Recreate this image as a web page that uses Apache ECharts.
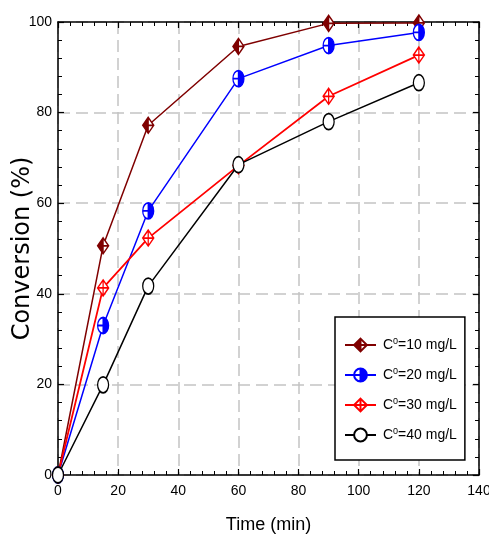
<!DOCTYPE html>
<html>
<head>
<meta charset="utf-8">
<script src="https://cdn.jsdelivr.net/npm/echarts@6/dist/echarts.min.js"></script>
<style>
  html, body { margin: 0; padding: 0; background: #fff; }
  #chart { width: 489px; height: 540px; }
</style>
</head>
<body>
<div id="chart"></div>
<script>
// Sampling times (min)
const times = [0, 15, 30, 60, 90, 120];

// Conversion (%) for each initial concentration
const conv10 = [0, 50.6, 77.2, 94.6, 99.7, 99.8];
const conv20 = [0, 33.0, 58.3, 87.5, 94.8, 97.7];
const conv30 = [0, 41.3, 52.3, 68.3, 83.6, 92.7];
const conv40 = [0, 19.9, 41.7, 68.5, 78.0, 86.6];

const seriesNames = ['C0=10 mg/L', 'C0=20 mg/L', 'C0=30 mg/L', 'C0=40 mg/L'];

// Axis ranges / ticks
const xMin = 0, xMax = 140, xStep = 20;
const yMin = 0, yMax = 100, yStep = 20;

const labelFont = "'Liberation Sans Narrow', 'Arial Narrow', 'Liberation Sans', Arial, sans-serif";

// Marker shapes: diamond and ellipse, each with a cross-hair
const diamondCross = 'path://M0,-1L1,0L0,1L-1,0Z M0,-1L0,1 M-1,0L1,0';
const ellipseCross = 'path://M-1,0A1,1 0 1,1 1,0A1,1 0 1,1 -1,0Z M-1,0L1,0 M0,-1L0,1';
const ellipse = 'path://M-1,0A1,1 0 1,1 1,0A1,1 0 1,1 -1,0Z';

function halfFill(color, leftSide) {
  const a = leftSide ? color : '#ffffff';
  const b = leftSide ? '#ffffff' : color;
  return {
    type: 'linear', x: 0, y: 0, x2: 1, y2: 0,
    colorStops: [
      { offset: 0, color: a }, { offset: 0.5, color: a },
      { offset: 0.5, color: b }, { offset: 1, color: b }
    ]
  };
}

function pairs(vals) {
  return times.map((t, i) => [t, vals[i]]);
}

function makeSeries(name, vals, color, symbol, fill, lw) {
  return {
    name: name,
    type: 'line',
    data: pairs(vals),
    symbol: symbol,
    symbolSize: [11, 16],
    showAllSymbol: true,
    clip: false,
    lineStyle: { color: color, width: lw },
    itemStyle: { color: fill, borderColor: color, borderWidth: 1.5 },
    emphasis: { disabled: true }
  };
}

function axisCommon(min, max, step) {
  return {
    type: 'value',
    min: min, max: max, interval: step,
    axisLine: { show: true, onZero: false, lineStyle: { color: '#000', width: 1.5 } },
    axisTick: { show: true, inside: true, length: 6, lineStyle: { color: '#000', width: 1.2 } },
    minorTick: { show: true, splitNumber: 5, length: 4, lineStyle: { color: '#000', width: 1 } },
    splitLine: { show: false },
    axisLabel: { show: false }
  };
}

const chart = echarts.init(document.getElementById('chart'), null, { renderer: 'canvas' });

chart.setOption({
  animation: false,
  backgroundColor: '#ffffff',
  grid: { left: 58, right: 10, top: 22, bottom: 65, containLabel: false, outerBoundsMode: 'none' },
  xAxis: [
    Object.assign(axisCommon(xMin, xMax, xStep), {
      position: 'bottom',
      name: 'Time (min)',
      nameLocation: 'middle',
      nameGap: 41,
      nameMoveOverlap: false,
      nameTextStyle: { fontFamily: labelFont, fontSize: 18, color: '#000' },
      axisLabel: { show: true, margin: 9, fontFamily: labelFont, fontSize: 14, color: '#000' },
      splitLine: { show: true, lineStyle: { color: '#c4c4c4', width: 1.5, type: [12, 6] } }
    }),
    Object.assign(axisCommon(xMin, xMax, xStep), { position: 'top' })
  ],
  yAxis: [
    Object.assign(axisCommon(yMin, yMax, yStep), {
      position: 'left',
      name: 'Conversion (%)',
      nameLocation: 'middle',
      nameGap: 23,
      nameMoveOverlap: false,
      nameTextStyle: { fontFamily: "'DejaVu Sans', Verdana, sans-serif", fontSize: 24, color: '#000' },
      axisLabel: { show: true, margin: 6, fontFamily: labelFont, fontSize: 14, color: '#000' },
      splitLine: { show: true, lineStyle: { color: '#c4c4c4', width: 1.5, type: [12, 6] } }
    }),
    Object.assign(axisCommon(yMin, yMax, yStep), { position: 'right' })
  ],
  legend: {
    orient: 'vertical',
    left: 335,
    top: 317,
    data: seriesNames,
    itemWidth: 31,
    itemHeight: 16,
    itemGap: 14,
    padding: [20, 8, 17, 9],
    backgroundColor: '#ffffff',
    borderColor: '#000',
    borderWidth: 1.5,
    borderRadius: 0,
    selectedMode: false,
    formatter: n => n.replace(/^C0/, 'C{s|0}'),
    textStyle: {
      fontFamily: labelFont, fontSize: 14, lineHeight: 16, color: '#000', padding: [0, 0, 0, 2],
      rich: { s: { fontFamily: labelFont, fontSize: 9, lineHeight: 9, verticalAlign: 'top' } }
    }
  },
  series: [
    makeSeries(seriesNames[0], conv10, '#7f0000', diamondCross, halfFill('#7f0000', true), 1.5),
    makeSeries(seriesNames[1], conv20, '#0000ff', ellipseCross, halfFill('#0000ff', false), 1.5),
    makeSeries(seriesNames[2], conv30, '#ff0000', diamondCross, '#ffffff', 1.8),
    makeSeries(seriesNames[3], conv40, '#000000', ellipse, '#ffffff', 1.5)
  ]
});
</script>
</body>
</html>
